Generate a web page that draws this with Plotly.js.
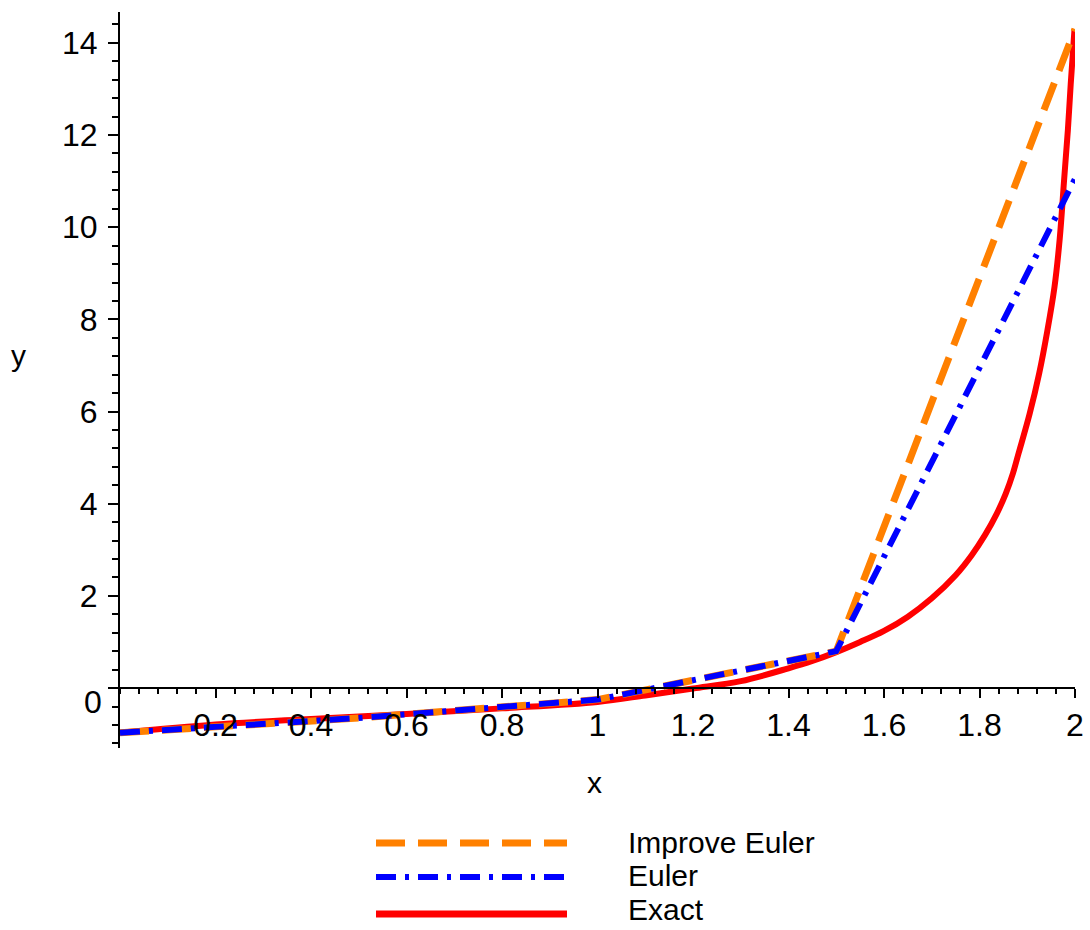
<!DOCTYPE html>
<html><head><meta charset="utf-8">
<script src="https://cdn.plot.ly/plotly-3.0.1.min.js"></script>
<style>html,body{margin:0;padding:0;background:#fff;}#chart{width:1090px;height:930px;}</style>
</head><body><div id="chart"></div>
<script>
// Numerical method nodes
const xNodes = [0, 0.5, 1, 1.5, 2];
const improvedEuler = [-0.97, -0.65, -0.25, 0.80, 14.3];
const euler = [-0.97, -0.65, -0.25, 0.80, 11.05];

// Exact solution
const exactX = [0, 0.2, 0.4, 0.6, 0.8, 1.0, 1.1, 1.2, 1.3, 1.4, 1.45, 1.5, 1.55, 1.6, 1.65, 1.7, 1.75, 1.784, 1.812, 1.836, 1.855, 1.870, 1.882, 1.905, 1.925, 1.942, 1.957, 1.968, 1.977, 1.985, 1.991, 1.999];
const exactY = [-0.97, -0.79, -0.67, -0.56, -0.44, -0.30, -0.16, -0.01, 0.15, 0.43, 0.59, 0.78, 1.0, 1.24, 1.55, 1.95, 2.45, 2.89, 3.33, 3.78, 4.22, 4.66, 5.1, 5.95, 6.83, 7.75, 8.7, 9.75, 11.0, 12.1, 13.1, 14.3];

const seriesNames = ["Improve Euler", "Euler", "Exact"];
const xTickVals = [0.2, 0.4, 0.6, 0.8, 1, 1.2, 1.4, 1.6, 1.8, 2];
const xTickText = ["0.2", "0.4", "0.6", "0.8", "1", "1.2", "1.4", "1.6", "1.8", "2"];
const yTickVals = [0, 2, 4, 6, 8, 10, 12, 14];
const yTickText = ["", "2", "4", "6", "8", "10", "12", "14"];
const xRange = [0, 2];
const yRange = [-1.3, 14.67];

const FONT = "Liberation Sans, Arial, sans-serif";
const ORANGE = "#ff8000", BLUE = "#0000ff", RED = "#ff0000";
const DASH_O = "29px,13px";
const DASH_B = "20px,9px,4px,9px";

const traces = [
  {x: exactX, y: exactY, mode: "lines", name: seriesNames[2], line: {color: RED, width: 6, shape: "spline", smoothing: 1, simplify: false}},
  {x: xNodes, y: improvedEuler, mode: "lines", name: seriesNames[0], line: {color: ORANGE, width: 7, dash: DASH_O}},
  {x: xNodes, y: euler, mode: "lines", name: seriesNames[1], line: {color: BLUE, width: 6, dash: DASH_B}}
];

const xPos = (0 - yRange[0]) / (yRange[1] - yRange[0]);

function py(p) { return (748 - p) / 736; }
function px(p) { return (p - 120) / 955; }

const legendRows = [
  {name: seriesNames[0], color: ORANGE, dash: DASH_O, w: 7, y: py(843), ty: py(842)},
  {name: seriesNames[1], color: BLUE, dash: DASH_B, w: 6, y: py(877), ty: py(876)},
  {name: seriesNames[2], color: RED, dash: "solid", w: 7, y: py(914), ty: py(909)}
];

const shapes = legendRows.map(r => ({
  type: "line", xref: "paper", yref: "paper",
  x0: px(376), x1: px(567), y0: r.y, y1: r.y,
  line: {color: r.color, width: r.w, dash: r.dash}
}));

const annotations = legendRows.map(r => ({
  xref: "paper", yref: "paper", x: px(627), y: r.ty, xanchor: "left", yanchor: "middle",
  text: r.name, showarrow: false, borderpad: 0, font: {family: FONT, size: 30, color: "#000"}
}));
annotations.push({xref: "paper", yref: "y", x: px(104), y: 0, xanchor: "right", yanchor: "middle", yshift: -14,
  text: "0", showarrow: false, font: {family: FONT, size: 32, color: "#000"}});
annotations.push({xref: "paper", yref: "paper", x: px(594), y: py(782), xanchor: "center", yanchor: "middle",
  text: "x", showarrow: false, font: {family: FONT, size: 30, color: "#000"}});
annotations.push({xref: "paper", yref: "paper", x: px(18), y: py(355), xanchor: "center", yanchor: "middle",
  text: "y", showarrow: false, font: {family: FONT, size: 30, color: "#000"}});

const layout = {
  width: 1090, height: 930,
  margin: {l: 120, r: 15, t: 12, b: 182},
  paper_bgcolor: "#fff", plot_bgcolor: "#fff",
  showlegend: false,
  font: {family: FONT, color: "#000"},
  xaxis: {
    range: xRange, anchor: "free", position: xPos,
    showline: true, linecolor: "#000", linewidth: 2,
    showgrid: false, zeroline: false,
    tickmode: "array", tickvals: xTickVals, ticktext: xTickText,
    ticks: "outside", ticklen: 9, tickwidth: 2, tickcolor: "#000",
    tickfont: {family: FONT, size: 32, color: "#000"},
    minor: {dtick: 0.04, tick0: 0, ticks: "outside", ticklen: 5, tickwidth: 2, tickcolor: "#000", showgrid: false}
  },
  yaxis: {
    range: yRange,
    showline: true, linecolor: "#000", linewidth: 2,
    showgrid: false, zeroline: false,
    tickmode: "array", tickvals: yTickVals, ticktext: yTickText,
    ticks: "outside", ticklen: 10, tickwidth: 2, tickcolor: "#000",
    ticklabelstandoff: 4,
    tickfont: {family: FONT, size: 32, color: "#000"},
    minor: {dtick: 0.4, tick0: 0, ticks: "outside", ticklen: 6, tickwidth: 2, tickcolor: "#000", showgrid: false}
  },
  shapes: shapes,
  annotations: annotations
};

Plotly.newPlot("chart", traces, layout, {displayModeBar: false, staticPlot: true});
</script>
</body></html>
